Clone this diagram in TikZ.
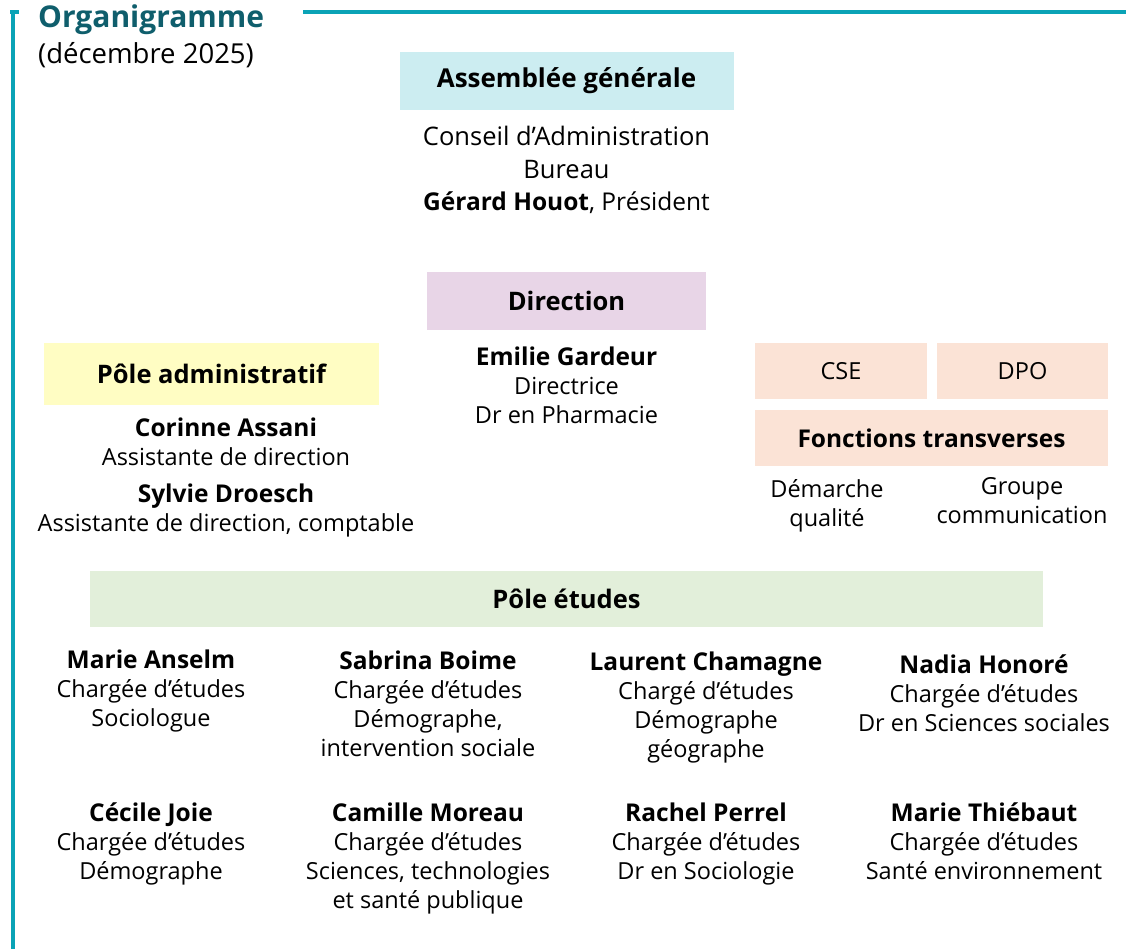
\documentclass[tikz,border=0pt]{standalone}
\usepackage{fontspec}
\setmainfont{Open Sans}
\usetikzlibrary{positioning}

\definecolor{liseret}{HTML}{0AA3B6}
\definecolor{titre}{HTML}{0F5E6C}
\definecolor{agcol}{HTML}{CCEDF1}
\definecolor{dircol}{HTML}{E8D5E7}
\definecolor{admcol}{HTML}{FFFDC3}
\definecolor{trcol}{HTML}{FBE3D6}
\definecolor{etucol}{HTML}{E2EFDA}

% nom d'une personne, en gras
\newcommand{\nom}[1]{{\fontsize{24.5}{29}\selectfont\bfseries #1}}

\begin{document}
\begin{tikzpicture}[x=1pt, y=-1pt,
    boite/.style={inner sep=0pt, font=\fontsize{25.5}{29}\selectfont\bfseries},
    bloc/.style={align=center, inner sep=0pt, anchor=base, font=\fontsize{23.5}{29}\selectfont}]
    \useasboundingbox (0,0) rectangle (1126,949);

    % liseret du cadre
    \draw[liseret, line width=4pt] (10,12) -- (13,12) -- (13,949);
    \draw[liseret, line width=4pt] (13,12) -- (19,12);
    \draw[liseret, line width=4pt] (303,12) -- (1126,12);

    \node[anchor=base west, inner sep=0pt, text=titre, font=\fontsize{30}{34}\selectfont\bfseries] (titre) at (38,28) {Organigramme};
    \node[anchor=base west, inner sep=0pt, font=\fontsize{27.5}{32}\selectfont] (date) at (38,64) {(décembre 2025)};

    % instances
    \node[boite, fill=agcol, minimum width=334, minimum height=58, font=\fontsize{26}{29}\selectfont\bfseries] (ag) at (566.5,81) {Assemblée générale};
    \node[bloc, font=\fontsize{25.5}{32.5}\selectfont] (ca) at (566.5,211) {Conseil d’Administration\\Bureau\\{\fontsize{24.5}{32.5}\selectfont\textbf{Gérard Houot}, Président}};

    \node[boite, fill=dircol, minimum width=279, minimum height=58] (dir) at (566.5,301) {Direction};
    \node[bloc] (eg) at (566.5,423) {\nom{Emilie Gardeur}\\Directrice\\Dr en Pharmacie};

    \node[boite, fill=admcol, minimum width=335, minimum height=62] (adm) at (211.5,374) {Pôle administratif};
    \node[bloc] (cas) at (226,465) {\nom{Corinne Assani}\\Assistante de direction};
    \node[bloc] (sdr) at (226,531) {\nom{Sylvie Droesch}\\Assistante de direction, comptable};

    \node[boite, fill=trcol, minimum width=172, minimum height=56, font=\fontsize{23.5}{29}\selectfont] (cse) at (841,371) {CSE};
    \node[boite, fill=trcol, minimum width=171, minimum height=56, font=\fontsize{23.5}{29}\selectfont] (dpo) at (1022.5,371) {DPO};
    \node[boite, fill=trcol, minimum width=353, minimum height=56, font=\fontsize{24.5}{29}\selectfont\bfseries] (ft) at (931.5,438) {Fonctions transverses};
    \node[bloc] (qual) at (827,526) {Démarche\\qualité};
    \node[bloc] (com) at (1022,523) {Groupe\\communication};

    % pole etudes
    \node[boite, fill=etucol, minimum width=953, minimum height=56] (etu) at (566.5,599) {Pôle études};

    \node[bloc] (e1) at (151,726) {\nom{Marie Anselm}\\Chargée d’études\\Sociologue};
    \node[bloc] (e2) at (428,756) {\nom{Sabrina Boime}\\Chargée d’études\\Démographe,\\intervention sociale};
    \node[bloc] (e3) at (706,757) {\nom{Laurent Chamagne}\\Chargé d’études\\Démographe\\géographe};
    \node[bloc] (e4) at (984,731) {\nom{Nadia Honoré}\\Chargée d’études\\Dr en Sciences sociales};

    \node[bloc] (e5) at (151,879) {\nom{Cécile Joie}\\Chargée d’études\\Démographe};
    \node[bloc] (e6) at (428,908) {\nom{Camille Moreau}\\Chargée d’études\\Sciences, technologies\\et santé publique};
    \node[bloc] (e7) at (706,879) {\nom{Rachel Perrel}\\Chargée d’études\\Dr en Sociologie};
    \node[bloc] (e8) at (984,879) {\nom{Marie Thiébaut}\\Chargée d’études\\Santé environnement};
\end{tikzpicture}
\end{document}
